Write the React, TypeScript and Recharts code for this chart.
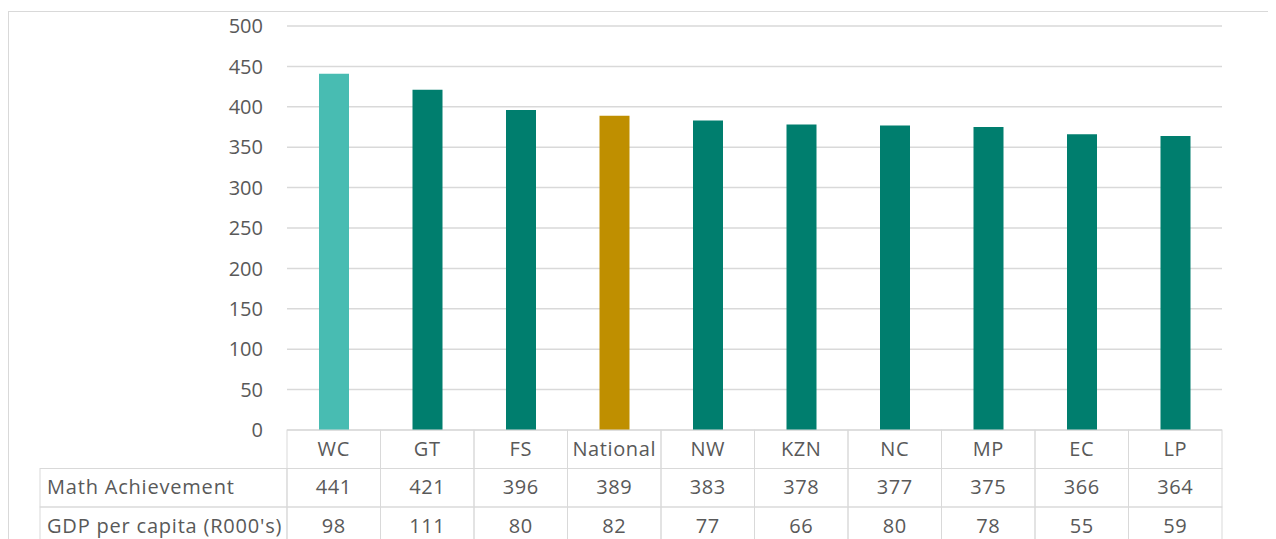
import { BarChart, Bar, Cell, XAxis, YAxis, CartesianGrid } from 'recharts'

const CATEGORIES = ['WC', 'GT', 'FS', 'National', 'NW', 'KZN', 'NC', 'MP', 'EC', 'LP']
const MATH = [441, 421, 396, 389, 383, 378, 377, 375, 366, 364]
const GDP = [98, 111, 80, 82, 77, 66, 80, 78, 55, 59]
const ROW_LABELS = ['Math Achievement', "GDP per capita (R000's)"]
const Y_TICKS = [0, 50, 100, 150, 200, 250, 300, 350, 400, 450, 500]

const COLORS: Record<string, string> = {
  WC: '#48bcb2',
  National: '#bf8f00',
}
const DEFAULT_COLOR = '#007e6e'

const W = 1266
const H = 531
const PLOT_LEFT = 279
const PLOT_RIGHT = 1214
const PLOT_TOP = 18
const PLOT_BOTTOM = 422
const COL_W = (PLOT_RIGHT - PLOT_LEFT) / CATEGORIES.length
const ROW_H = 38.5
const LABEL_LEFT = 32
const BORDER = '#d9d9d9'
const TEXT = '#595959'
const FONT = '"Open Sans", sans-serif'

const data = CATEGORIES.map((name, i) => ({ name, math: MATH[i], gdp: GDP[i] }))

function TableTick(props: any) {
  const { x, y, index } = props
  const left = x - COL_W / 2
  const rows = [CATEGORIES[index], String(MATH[index]), String(GDP[index])]
  return (
    <g>
      {rows.map((txt, r) => (
        <g key={r}>
          <rect x={left} y={y + r * ROW_H} width={COL_W} height={ROW_H} fill="none" stroke={BORDER} />
          <text
            x={x}
            y={y + r * ROW_H + ROW_H / 2 - 1}
            textAnchor="middle"
            dominantBaseline="central"
            fill={TEXT}
            fontSize={20}
            letterSpacing={0.6}
            fontFamily={FONT}
          >
            {txt}
          </text>
        </g>
      ))}
      {index === 0 &&
        ROW_LABELS.map((lab, r) => (
          <g key={lab}>
            <rect
              x={LABEL_LEFT}
              y={y + (r + 1) * ROW_H}
              width={left - LABEL_LEFT}
              height={ROW_H}
              fill="none"
              stroke={BORDER}
            />
            <text
              x={LABEL_LEFT + 7}
              y={y + (r + 1) * ROW_H + ROW_H / 2 - 1}
              dominantBaseline="central"
              fill={TEXT}
              fontSize={20}
              letterSpacing={0.8}
              fontFamily={FONT}
            >
              {lab}
            </text>
          </g>
        ))}
    </g>
  )
}

export default function App() {
  return (
    <div style={{ position: 'relative', width: W, height: H, overflow: 'hidden', background: '#fff' }}>
      <div
        style={{
          position: 'absolute',
          left: 0,
          top: 3,
          width: W + 50,
          height: H + 50,
          borderLeft: `1px solid ${BORDER}`,
          borderTop: `1px solid ${BORDER}`,
        }}
      />
      <div style={{ position: 'absolute', left: 0, top: 0 }}>
        <BarChart
          width={W}
          height={H}
          data={data}
          margin={{ top: PLOT_TOP, right: W - PLOT_RIGHT, bottom: 0, left: PLOT_LEFT - 60 }}
          barSize={30}
        >
          <CartesianGrid vertical={false} stroke={BORDER} strokeWidth={1.5} />
          <XAxis
            dataKey="name"
            height={H - PLOT_BOTTOM}
            axisLine={false}
            tickLine={false}
            tickSize={0}
            tickMargin={0}
            interval={0}
            tick={<TableTick />}
          />
          <YAxis
            width={60}
            domain={[0, 500]}
            ticks={Y_TICKS}
            axisLine={false}
            tickLine={false}
            tickSize={6}
            tickMargin={18}
            tick={{ fill: TEXT, fontSize: 20, fontFamily: FONT }}
          />
          <Bar dataKey="math" isAnimationActive={false}>
            {data.map((d, i) => (
              <Cell key={`cell-${i}`} fill={COLORS[d.name] ?? DEFAULT_COLOR} />
            ))}
          </Bar>
        </BarChart>
      </div>
    </div>
  )
}
